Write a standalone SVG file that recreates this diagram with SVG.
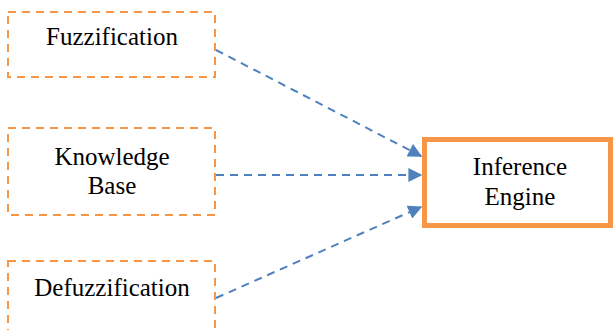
<svg xmlns="http://www.w3.org/2000/svg" width="614" height="330" viewBox="0 0 614 330">
  <style>
    .src { fill: #fff; stroke: #f79646; stroke-width: 2; stroke-dasharray: 8 6; }
    .main { fill: #fff; stroke: #f79646; stroke-width: 5; }
    .link { fill: none; stroke: #4f81bd; stroke-width: 2; stroke-dasharray: 8 6; }
  </style>
  <defs>
    <marker id="arrow" viewBox="0 0 10 10" refX="9" refY="5" markerWidth="8" markerHeight="7" orient="auto" markerUnits="strokeWidth">
      <path d="M0,0 L10,5 L0,10 z" fill="#4f81bd"/>
    </marker>
  </defs>
  <rect width="614" height="330" fill="#fff"/>
  <!-- dashed blue connectors into the engine -->
  <g id="connectors">
    <line class="link" x1="216" y1="50" x2="421" y2="156" marker-end="url(#arrow)"/>
    <line class="link" x1="216" y1="175" x2="421" y2="175" marker-end="url(#arrow)"/>
    <line class="link" x1="216" y1="298" x2="421" y2="207" marker-end="url(#arrow)"/>
  </g>
  <g id="fuzzification">
    <rect class="src" x="8" y="12" width="207" height="65"/>
    <text x="112" y="45" font-family="Liberation Serif" font-size="25" text-anchor="middle">Fuzzification</text>
  </g>
  <g id="knowledge-base">
    <rect class="src" x="8" y="128" width="207" height="87"/>
    <text x="112" y="165" font-family="Liberation Serif" font-size="25" text-anchor="middle">Knowledge</text>
    <text x="112" y="194" font-family="Liberation Serif" font-size="25" text-anchor="middle">Base</text>
  </g>
  <g id="defuzzification">
    <rect class="src" x="8" y="261" width="207" height="90"/>
    <text x="112" y="296" font-family="Liberation Serif" font-size="25" text-anchor="middle">Defuzzification</text>
  </g>
  <g id="inference-engine">
    <rect class="main" x="424.5" y="139.5" width="186" height="86"/>
    <text x="520" y="175" font-family="Liberation Serif" font-size="25" text-anchor="middle">Inference</text>
    <text x="520" y="205" font-family="Liberation Serif" font-size="25" text-anchor="middle">Engine</text>
  </g>
</svg>
